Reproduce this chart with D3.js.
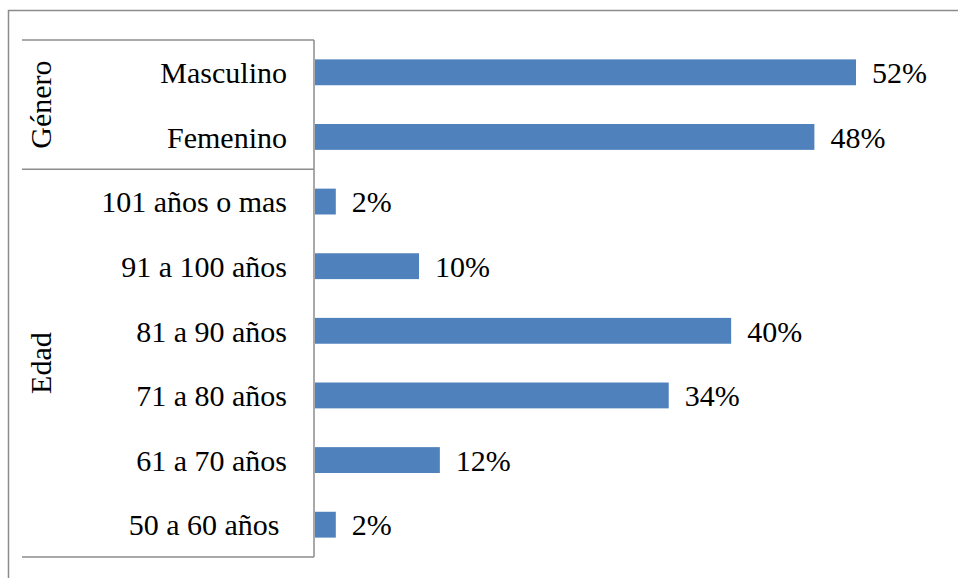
<!DOCTYPE html>
<html>
<head>
<meta charset="utf-8">
<script src="https://cdn.jsdelivr.net/npm/d3@7"></script>
<style>
  body { margin: 0; background: #fff; }
  svg text { white-space: pre; }
</style>
</head>
<body>
<svg></svg>
<script>
//chart size
const width = 958;
const height = 578;
const font = "'Times New Roman', Times, 'Liberation Serif', Tinos, 'DejaVu Serif', 'Noto Serif', serif";

//data
const categories = ["Masculino", "Femenino", "101 años o mas", "91 a 100 años", "81 a 90 años", "71 a 80 años", "61 a 70 años", "50 a 60 años "];
const values = [52, 48, 2, 10, 40, 34, 12, 2];
const groups = ["Género", "Edad"];
const groupSizes = [2, 6];

const svg = d3.select("svg")
  .attr("width", width)
  .attr("height", height)
  .attr("font-family", font);

//outer frame (cut off at right and bottom)
svg.append("rect")
  .attr("x", 8.5).attr("y", 10.5)
  .attr("width", 970).attr("height", 600)
  .attr("fill", "none")
  .attr("stroke", "#8c8c8c")
  .attr("stroke-width", 1.5);

//scales
const x = d3.scaleLinear()
  .domain([0, 52])
  .range([315, 856]);

const y = d3.scaleBand()
  .domain(categories)
  .range([40, 557])
  .paddingInner(0.6)
  .paddingOuter(0.3);

//bars
svg.selectAll("rect.bar")
  .data(values)
  .enter().append("rect")
  .attr("class", "bar")
  .attr("x", x(0))
  .attr("y", (d, i) => y(categories[i]))
  .attr("width", d => x(d) - x(0))
  .attr("height", y.bandwidth())
  .attr("fill", "#4F81BD");

//value labels
svg.selectAll("text.val")
  .data(values)
  .enter().append("text")
  .attr("class", "val")
  .attr("x", d => x(d) + 16)
  .attr("y", (d, i) => y(categories[i]) + y.bandwidth() / 2)
  .attr("dy", "0.36em")
  .attr("font-size", 30)
  .attr("fill", "#000")
  .text(d => d + "%");

//category labels
svg.selectAll("text.cat")
  .data(categories)
  .enter().append("text")
  .attr("class", "cat")
  .attr("x", 287)
  .attr("y", d => y(d) + y.bandwidth() / 2)
  .attr("dy", "0.36em")
  .attr("text-anchor", "end")
  .attr("font-size", 30)
  .attr("fill", "#000")
  .text(d => d);

//axis and group lines
const lineColor = "#8c8c8c";
svg.append("line")
  .attr("x1", 314).attr("x2", 314)
  .attr("y1", 40).attr("y2", 557)
  .attr("stroke", lineColor).attr("stroke-width", 1.5);

const step = (557 - 40) / categories.length;
let start = 0;
const bounds = [40];
groupSizes.forEach(n => { start += n; bounds.push(40 + start * step); });

svg.selectAll("line.sep")
  .data(bounds)
  .enter().append("line")
  .attr("class", "sep")
  .attr("x1", 22).attr("x2", 314)
  .attr("y1", d => d).attr("y2", d => d)
  .attr("stroke", lineColor).attr("stroke-width", 1.5);

//group labels
svg.selectAll("text.grp")
  .data(groups)
  .enter().append("text")
  .attr("class", "grp")
  .attr("transform", (d, i) => `translate(40,${(bounds[i] + bounds[i + 1]) / 2}) rotate(-90)`)
  .attr("dy", "0.36em")
  .attr("text-anchor", "middle")
  .attr("font-size", 30)
  .attr("fill", "#000")
  .text(d => d);
</script>
</body>
</html>
